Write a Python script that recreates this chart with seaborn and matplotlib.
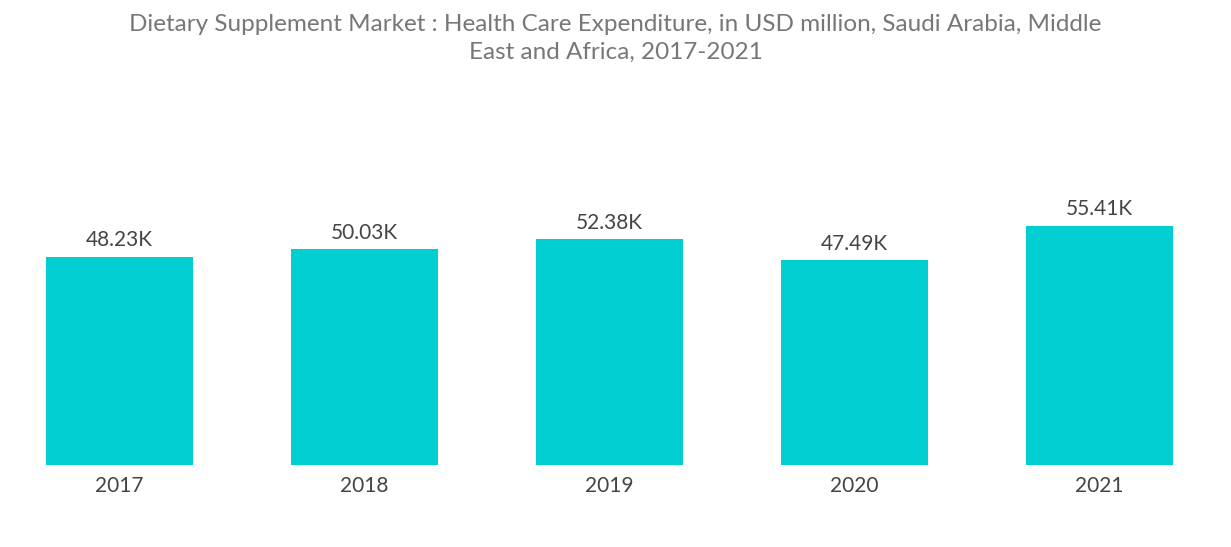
import matplotlib
matplotlib.use("Agg")
import matplotlib.pyplot as plt
import seaborn as sns
import pandas as pd

years = ["2017", "2018", "2019", "2020", "2021"]
values = [48.23, 50.03, 52.38, 47.49, 55.41]
labels = ["48.23K", "50.03K", "52.38K", "47.49K", "55.41K"]

df = pd.DataFrame({"year": years, "value": values})
plt.rcParams["font.family"] = "Lato"
fig = plt.figure(figsize=(12.31, 5.47), dpi=100)
ax = fig.add_axes([-0.0024, 0.15, 0.9951, 0.552])
sns.barplot(data=df, x="year", y="value", color="#00CED1", saturation=1, width=0.6, ax=ax)
ax.set_xlim(-0.5, 4.5)
ax.set_ylim(0, 70)
for i, (v, t) in enumerate(zip(values, labels)):
    ax.text(i, v + 1.5, t, ha="center", va="bottom", fontsize=15, color="#444444")
ax.set_xlabel(""); ax.set_ylabel("")
ax.set_yticks([])
ax.tick_params(axis="x", length=0, labelsize=15, labelcolor="#444444", pad=8)
for s in ax.spines.values():
    s.set_visible(False)
fig.text(0.5, 0.975, "Dietary Supplement Market : Health Care Expenditure, in USD million, Saudi Arabia, Middle\nEast and Africa, 2017-2021",
         ha="center", va="top", fontsize=17.5, color="#777777", linespacing=1.4)
fig.savefig("out.png", dpi=100)
